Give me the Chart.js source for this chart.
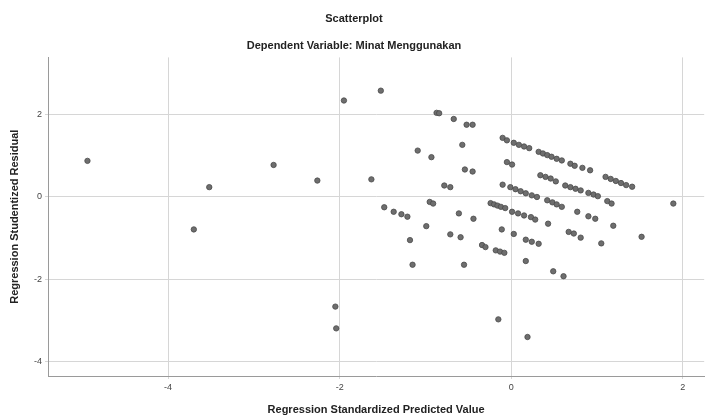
<!DOCTYPE html>
<html>
<head>
<meta charset="utf-8">
<script src="https://cdn.jsdelivr.net/npm/chart.js@4.4.1/dist/chart.umd.min.js"></script>
<style>
  html, body { margin: 0; padding: 0; background: #ffffff; }
  #chart { display: block; }
</style>
</head>
<body>
<canvas id="chart" width="709" height="419"></canvas>
<script>
// ==================================================
// DATA
// ==================================================
const chartTitle = "Scatterplot";
const chartSubtitle = "Dependent Variable: Minat Menggunakan";
const xTitle = "Regression Standardized Predicted Value";
const yTitle = "Regression Studentized Residual";

// outliers on the left
const predictedLeft = [-4.94, -3.70, -3.52, -2.77, -2.26, -2.05, -2.04, -1.95, -1.63, -1.52];
const residualLeft = [0.88, -0.79, 0.24, 0.78, 0.40, -2.67, -3.20, 2.35, 0.43, 2.59];

// middle cloud, below zero predicted
const predictedMid = [
  -1.48, -1.37, -1.28, -1.21, -1.18, -1.15, -1.09, -0.99, -0.95, -0.91,
  -0.93, -0.87, -0.84, -0.78, -0.71, -0.71, -0.67, -0.61, -0.59, -0.57,
  -0.55, -0.54, -0.52, -0.45, -0.45, -0.44, -0.34, -0.30, -0.24, -0.20,
  -0.16, -0.12, -0.07, -0.18, -0.13, -0.08, -0.15, -0.11, -0.10, -0.10,
  -0.05, -0.05, 0.01,
];
const residualMid = [
  -0.25, -0.36, -0.42, -0.48, -1.05, -1.65, 1.13, -0.71, -0.12, -0.16,
  0.97, 2.05, 2.04, 0.28, 0.24, -0.91, 1.90, -0.40, -0.98, 1.27,
  -1.65, 0.67, 1.76, 1.76, 0.62, -0.53, -1.17, -1.22, -0.15, -0.18,
  -0.21, -0.24, -0.27, -1.30, -1.33, -1.36, -2.98, -0.79, 0.30, 1.44,
  1.38, 0.85, 0.79,
];

// right cloud (diagonal bands)
const predictedRight = [
  0.03, 0.09, 0.15, 0.21, 0.32, 0.37, 0.42, 0.47, 0.53, 0.59,
  0.69, 0.74, 0.83, 0.92, 1.10, 1.16, 1.22, 1.28, 1.34, 1.41,
  0.34, 0.40, 0.46, 0.52, -0.01, 0.05, 0.11, 0.17, 0.24, 0.30,
  0.63, 0.69, 0.75, 0.81, 0.90, 0.96, 1.01, 1.12, 1.17, 1.89,
  0.42, 0.48, 0.53, 0.59, 0.01, 0.08, 0.15, 0.23, 0.28, 0.43,
  0.77, 0.90, 0.98, 1.19, 0.03, 0.17, 0.24, 0.32, 0.67, 0.73,
  0.81, 1.05, 1.52, 0.17, 0.49, 0.61, 0.19,
];
const residualRight = [
  1.32, 1.27, 1.23, 1.19, 1.10, 1.06, 1.02, 0.98, 0.93, 0.89,
  0.81, 0.76, 0.71, 0.65, 0.49, 0.44, 0.39, 0.34, 0.29, 0.25,
  0.53, 0.49, 0.45, 0.38, 0.24, 0.19, 0.14, 0.09, 0.04, 0.00,
  0.28, 0.24, 0.20, 0.16, 0.10, 0.06, 0.02, -0.10, -0.16, -0.16,
  -0.08, -0.13, -0.18, -0.24, -0.36, -0.40, -0.45, -0.49, -0.55, -0.65,
  -0.36, -0.47, -0.53, -0.70, -0.90, -1.04, -1.09, -1.14, -0.85, -0.89,
  -0.99, -1.13, -0.97, -1.56, -1.81, -1.93, -3.41,
];

// axis ranges and tick step
const xMin = -5.4, xMax = 2.25;
const yMin = -4.36, yMax = 3.4;
const tickStep = 2;

// ==================================================
// BUILD POINTS
// ==================================================
const predicted = [...predictedLeft, ...predictedMid, ...predictedRight];
const residual = [...residualLeft, ...residualMid, ...residualRight];
const points = predicted.map((x, i) => ({ x: x, y: residual[i] }));

// ==================================================
// CHART
// ==================================================
const fontFamily = "'Liberation Sans', Arial, sans-serif";
const ctx = document.getElementById("chart").getContext("2d");

new Chart(ctx, {
  type: "scatter",
  data: {
    datasets: [
      {
        data: points,
        backgroundColor: "#6e6e6e",
        borderColor: "#4a4a4a",
        borderWidth: 0.8,
        pointRadius: 2.7,
      },
    ],
  },
  options: {
    responsive: false,
    animation: false,
    layout: { padding: { left: 1, right: 2, top: 0, bottom: 0 } },
    plugins: {
      legend: { display: false },
      tooltip: { enabled: false },
      title: {
        display: true,
        text: chartTitle,
        color: "#222",
        font: { family: fontFamily, size: 11, weight: "bold" },
        padding: { top: 12, bottom: 14 },
      },
      subtitle: {
        display: true,
        text: chartSubtitle,
        color: "#222",
        font: { family: fontFamily, size: 11, weight: "bold" },
        padding: { top: 0, bottom: 5 },
      },
    },
    scales: {
      x: {
        type: "linear",
        min: xMin,
        max: xMax,
        afterFit: (scale) => {
          scale.height = 43;
        },
        ticks: {
          stepSize: tickStep,
          includeBounds: false,
          color: "#444",
          padding: 3,
          font: { family: fontFamily, size: 9 },
        },
        grid: { color: "#d6d6d6", tickLength: 3 },
        border: { color: "#9a9a9a" },
        title: {
          display: true,
          text: xTitle,
          color: "#222",
          font: { family: fontFamily, size: 11, weight: "bold" },
          padding: { top: 0, bottom: 2 },
        },
      },
      y: {
        type: "linear",
        min: yMin,
        max: yMax,
        afterFit: (scale) => {
          scale.width = 47;
        },
        ticks: {
          stepSize: tickStep,
          includeBounds: false,
          color: "#444",
          padding: 3,
          font: { family: fontFamily, size: 9 },
        },
        grid: { color: "#d6d6d6", tickLength: 3 },
        border: { color: "#9a9a9a" },
        title: {
          display: true,
          text: yTitle,
          color: "#222",
          font: { family: fontFamily, size: 11, weight: "bold" },
          padding: { top: 7, bottom: 0 },
        },
      },
    },
  },
});
</script>
</body>
</html>
